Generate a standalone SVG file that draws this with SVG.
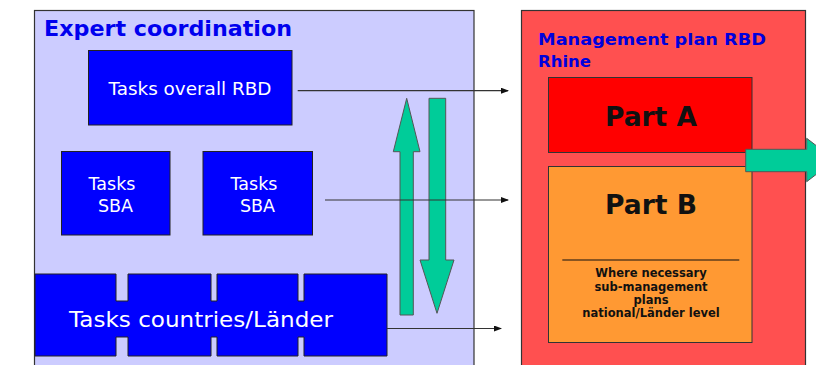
<svg xmlns="http://www.w3.org/2000/svg" width="816" height="365" viewBox="0 0 816 365">
<style>
.panel{stroke:#333;stroke-width:1.2}
.blue{fill:#0000FF;stroke:#222;stroke-width:1}
.wt{fill:#fff;font-family:"DejaVu Sans",Verdana,sans-serif;text-anchor:middle}
.green{fill:#00CC99;stroke:#555;stroke-width:1}
.conn{stroke:#333;stroke-width:1.2;fill:none;marker-end:url(#ah)}
.bk{fill:#111;font-family:"DejaVu Sans",Verdana,sans-serif;font-weight:bold;text-anchor:middle}
</style>
<defs>
<marker id="ah" markerWidth="8" markerHeight="6" refX="7" refY="3" orient="auto" markerUnits="userSpaceOnUse">
<path d="M0,0 L8,3 L0,6 Z" fill="#111"/>
</marker>
</defs>
<rect width="816" height="365" fill="#fff"/>
<g id="expert-coordination">
<rect class="panel" x="34.5" y="10.5" width="439.5" height="370" fill="#CCCCFF"/>
<text x="44" y="36" font-family="DejaVu Sans,Verdana,sans-serif" font-weight="bold" font-size="21.5" fill="#0000EE" textLength="248" lengthAdjust="spacingAndGlyphs">Expert coordination</text>
</g>
<g id="tasks-overall">
<rect class="blue" x="88.5" y="50.5" width="203.5" height="74.5"/>
<text class="wt" x="190" y="95" font-size="17" textLength="163" lengthAdjust="spacingAndGlyphs">Tasks overall RBD</text>
</g>
<g id="tasks-sba-1">
<rect class="blue" x="61.5" y="151.5" width="108.5" height="83.5"/>
<text class="wt" x="112" y="190" font-size="17.5">Tasks</text>
<text class="wt" x="115.5" y="211.5" font-size="17.5">SBA</text>
</g>
<g id="tasks-sba-2">
<rect class="blue" x="203" y="151.5" width="109.5" height="83.5"/>
<text class="wt" x="254" y="190" font-size="17.5">Tasks</text>
<text class="wt" x="257.5" y="211.5" font-size="17.5">SBA</text>
</g>
<g id="tasks-countries">
<path class="blue" d="M35,274 H116 V301 H128 V274 H211 V301 H217 V274 H298 V301 H304 V274 H387 V356 H304 V337 H298 V356 H217 V337 H211 V356 H128 V337 H116 V356 H35 Z"/>
<text class="wt" x="201" y="327" font-size="21.5" textLength="264" lengthAdjust="spacingAndGlyphs">Tasks countries/Länder</text>
</g>
<g id="feedback-arrows">
<path class="green" d="M406.7,98.3 L420,151.7 L413.3,151.7 L413.3,315 L400,315 L400,151.7 L393.3,151.7 Z"/>
<path class="green" d="M429,98.3 L445.7,98.3 L445.7,260 L454,260 L437,313.3 L420,260 L429,260 Z"/>
</g>
<g id="management-plan">
<rect class="panel" x="521.5" y="10.5" width="284" height="370" fill="#FF5050"/>
<text font-family="DejaVu Sans,Verdana,sans-serif" font-weight="bold" font-size="16.5" fill="#0000DD"><tspan x="538" y="45" textLength="228" lengthAdjust="spacingAndGlyphs">Management plan RBD</tspan><tspan x="538" y="66.7">Rhine</tspan></text>
</g>
<g id="part-a">
<rect x="548.5" y="77.5" width="203.5" height="75" fill="#FF0000" stroke="#333" stroke-width="1"/>
<text class="bk" x="651" y="126" font-size="27" textLength="92" lengthAdjust="spacingAndGlyphs">Part A</text>
</g>
<g id="part-b">
<rect x="548.5" y="166.5" width="203.5" height="176" fill="#FF9933" stroke="#333" stroke-width="1"/>
<text class="bk" x="651" y="214.3" font-size="27" textLength="92" lengthAdjust="spacingAndGlyphs">Part B</text>
<line x1="562.3" y1="260" x2="739.3" y2="260" stroke="#111" stroke-width="1.2"/>
<text class="bk" font-size="11.5" fill="#222"><tspan x="651" y="277.3">Where necessary</tspan><tspan x="651" y="290.5">sub-management</tspan><tspan x="651" y="304">plans</tspan><tspan x="651" y="316.7">national/Länder level</tspan></text>
</g>
<g id="output-arrow">
<path class="green" d="M745.7,149.3 L806.7,149.3 L806.7,138.3 L835,160 L806.7,181.7 L806.7,171.7 L745.7,171.7 Z"/>
</g>
<g id="connectors">
<line class="conn" x1="297.7" y1="90.7" x2="508" y2="90.7"/>
<line class="conn" x1="325" y1="200" x2="508" y2="200"/>
<line class="conn" x1="387" y1="328.5" x2="501" y2="328.5"/>
</g>
</svg>
